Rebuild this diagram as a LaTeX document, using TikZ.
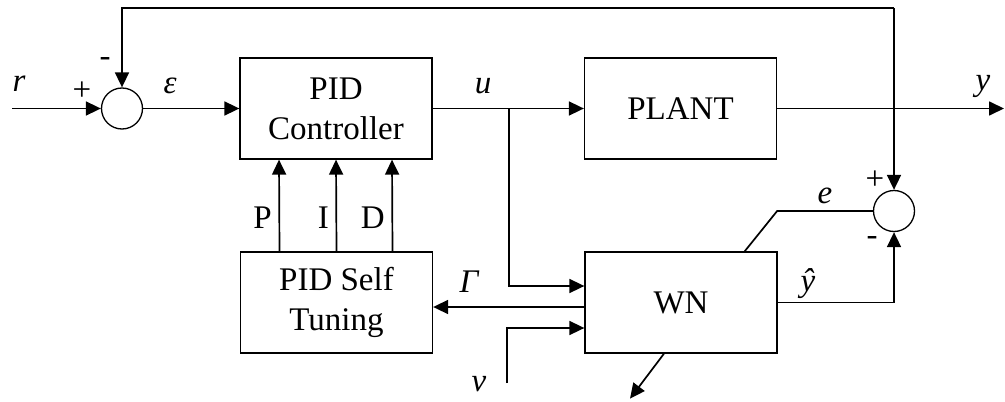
\documentclass[tikz,border=0pt]{standalone}
\usepackage{fontspec}
\setmainfont{Liberation Serif}
\usepackage{tikz}
\usetikzlibrary{arrows.meta}
\newcommand{\diagfont}{\fontsize{16.5}{20}\selectfont}
\tikzset{
  blockbox/.style = {draw,line width=0.65pt,minimum width=96pt,minimum height=50.5pt,align=center,inner sep=0pt},
  sumnode/.style  = {draw,circle,line width=0.65pt,minimum size=20.5pt,inner sep=0pt},
  sigarr/.style   = {-{Triangle[length=7.5pt,width=7pt]},line width=0.85pt},
  sigline/.style  = {line width=0.85pt},
  siglbl/.style   = {font=\diagfont\itshape,inner sep=0pt}
}
\newcommand{\sgnmark}[4]{%
  \node[inner sep=0pt] (#1) at (#2,#3) {#4};
}

\begin{document}
\begin{tikzpicture}[x=0.5pt,y=-0.5pt,font=\diagfont]
  \useasboundingbox (0,0) rectangle (1005,401);
  \node[blockbox] (pidc)  at (336,108.5)   {PID\\Controller};
  \node[blockbox] (plant) at (680.5,108.5) {PLANT};
  \node[blockbox] (tune)  at (336.5,302.5) {PID Self\\Tuning};
  \node[blockbox] (wn)    at (681,302.5)   {WN};
  \node[sumnode]  (s1)    at (122,108.5) {};
  \node[sumnode]  (s2)    at (894,211)   {};
  \coordinate (rin)   at (12,108.5);
  \coordinate (yout)  at (1004,108.5);
  \coordinate (fbtop) at (894,8);
  \coordinate (ubr)   at (509,108.5);
  \coordinate (vin)   at (507,383);
  \draw[sigarr] (rin) -- (s1);
  \draw[sigarr] (s1) -- (pidc);
  \draw[sigarr] (pidc) -- (plant);
  \draw[sigarr] (plant) -- (yout);
  \draw[sigarr] (fbtop) -| (s1.north);
  \draw[sigarr] (fbtop) -- (s2.north);
  \draw[sigarr] (ubr) |- ([yshift=8.25pt]wn.west);
  \draw[sigarr] ([yshift=-2.25pt]wn.west) -- ([yshift=-2.25pt]tune.east);
  \draw[sigarr] (vin) |- ([yshift=-12.75pt]wn.west);
  \draw[sigarr] (wn.east) -| (s2.south);
  \draw[sigline] (s2.west) -- (s2.west -| plant.east) -- ([xshift=-16.5pt]wn.north east);
  \draw[sigarr] ([xshift=-8.5pt]wn.south) -- +(-34,45);
  \foreach \dx/\nm in {-28.5/P,0/I,28/D}
    \draw[sigarr] ([xshift=\dx pt]tune.north) -- ([xshift=\dx pt]pidc.south)
      node[pos=0.37,left] (lab\nm) {\nm};
  \node[siglbl] (rlab)   at (19,84)   {r};
  \node[siglbl] (elab)   at (170,86)  {ε};
  \node[siglbl] (ulab)   at (483,86)  {u};
  \node[siglbl] (ylab)   at (983,86)  {y};
  \node[siglbl] (errlab) at (825,196) {e};
  \node[siglbl] (yhlab)  at (808,284) {ŷ};
  \node[siglbl] (glab)   at (469,282) {Γ};
  \node[siglbl] (vlab)   at (479,384) {v};
  \sgnmark{p1}{82}{91}{+}
  \sgnmark{m1}{105}{62}{-}
  \sgnmark{p2}{875}{180}{+}
  \sgnmark{m2}{872}{241}{-}
\end{tikzpicture}
\end{document}
